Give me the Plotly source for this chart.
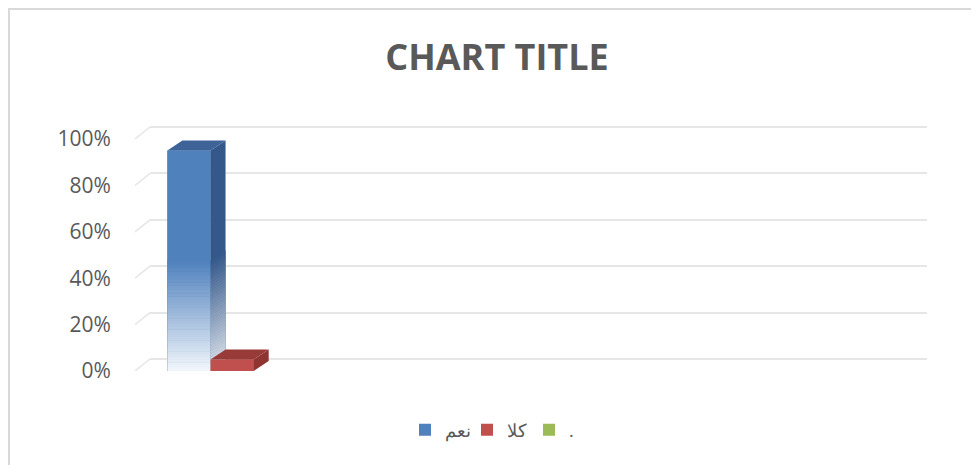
import plotly.graph_objects as go

categories = ["1", "2", "3", "4"]
series_names = ["نعم", "كلا", "."]
yes_values = [0.95, None, None, None]
no_values = [0.05, None, None, None]
dot_values = [0.0, None, None, None]
y_ticks = [0, 0.2, 0.4, 0.6, 0.8, 1.0]

FRONT = ["#4F81BD", "#C0504D", "#9BBB59"]
SIDE = ["#34588A", "#8E3532", "#71893F"]
TOP = ["#3E6398", "#983A37", "#7A9443"]
FADE_FRONT = ["#F2F6FB", None, None]
FADE_SIDE = ["#DCE2EA", None, None]
GRID = "#E6E6E6"
TEXT = "#595959"

# pixel layout of the fake 3-D plot box (window coordinates)
W, H = 979, 465
OFF = 8  # page margin around the figure
PX_L, PX_R, PX_T, PX_B = 135, 932, 122, 371
UNIT_X = 194.25   # px per category on the front plane
UNIT_Y = 232.0    # px per 100 % on the front plane
WALL_DX, WALL_DY = 15, 12
BAR_DX, BAR_DY = 15, 10
BAR_W = 2 / 9
N_STRIPS = 40

plot_w = PX_R - PX_L
plot_h = PX_B - PX_T
ddx = BAR_DX / UNIT_X
ddy = BAR_DY / UNIT_Y


def mix(c1, c2, f):
    a = [int(c1[i:i + 2], 16) for i in (1, 3, 5)]
    b = [int(c2[i:i + 2], 16) for i in (1, 3, 5)]
    return "#" + "".join(f"{round(x + (y - x) * f):02X}" for x, y in zip(a, b))


def poly(xs, ys, color):
    return go.Scatter(
        x=xs + [xs[0]], y=ys + [ys[0]], mode="lines", fill="toself",
        fillcolor=color, line=dict(width=0, color=color),
        hoverinfo="skip", showlegend=False, xaxis="x2", yaxis="y2",
    )


fig = go.Figure()

all_values = [yes_values, no_values, dot_values]
xpos = list(range(len(categories)))

# legend entries / base bars
for i, (name, vals) in enumerate(zip(series_names, all_values)):
    fig.add_trace(go.Bar(
        x=xpos, y=vals, name=name, width=BAR_W, offset=-1 / 3 + i * BAR_W,
        marker=dict(color=FRONT[i], line=dict(width=0)),
        xaxis="x2", yaxis="y2",
    ))

# wall diagonals on the left side
dx_wall = WALL_DX / UNIT_X
dy_wall = WALL_DY / UNIT_Y
diag_x, diag_y = [], []
for v in y_ticks:
    diag_x += [-0.5, -0.5 + dx_wall, None]
    diag_y += [v, v + dy_wall, None]
fig.add_trace(go.Scatter(x=diag_x, y=diag_y, mode="lines",
                         line=dict(color=GRID, width=1.5), hoverinfo="skip",
                         showlegend=False, xaxis="x2", yaxis="y2"))

# 3-D faces drawn over the bars
for i, vals in enumerate(all_values):
    for c, v in zip(xpos, vals):
        if not v:
            continue
        x0 = c - 1 / 3 + i * BAR_W
        x1 = x0 + BAR_W
        fig.add_trace(poly([x0, x1, x1, x0], [0, 0, v, v], FRONT[i]))
        fig.add_trace(poly([x1, x1 + ddx, x1 + ddx, x1], [0, ddy, v + ddy, v], SIDE[i]))
        if FADE_FRONT[i]:
            half = v / 2
            for k in range(N_STRIPS):
                y0 = half * k / N_STRIPS
                y1 = half * (k + 1) / N_STRIPS + 0.002
                f = (k + 0.5) / N_STRIPS
                fig.add_trace(poly([x0, x1, x1, x0], [y0, y0, y1, y1],
                                   mix(FADE_FRONT[i], FRONT[i], f)))
                fig.add_trace(poly([x1, x1 + ddx, x1 + ddx, x1],
                                   [y0, y0 + ddy, y1 + ddy, y1],
                                   mix(FADE_SIDE[i], SIDE[i], f)))
        fig.add_trace(poly([x0, x1, x1 + ddx, x0 + ddx], [v, v, v + ddy, v + ddy], TOP[i]))

# back wall axes (gridlines only)
pad = 0.02
back_bottom = PX_B - WALL_DY + pad * UNIT_Y
back_top = PX_B - WALL_DY - (1 + pad) * UNIT_Y
fig.update_layout(
    xaxis=dict(domain=[WALL_DX / plot_w, (WALL_DX + 4 * UNIT_X) / plot_w],
               range=[-0.5, 3.5], visible=False, anchor="y"),
    yaxis=dict(domain=[(PX_B - back_bottom) / plot_h, (PX_B - back_top) / plot_h],
               range=[-pad, 1 + pad], tickvals=y_ticks, showgrid=True,
               gridcolor=GRID, gridwidth=1.5, showticklabels=False,
               zeroline=False, ticks="", anchor="x"),
    xaxis2=dict(domain=[0, 1], range=[-0.5, -0.5 + plot_w / UNIT_X],
                visible=False, anchor="y2"),
    yaxis2=dict(domain=[0, 1], range=[0, plot_h / UNIT_Y], tickvals=y_ticks,
                tickformat=".0%", showgrid=False, zeroline=False,
                ticks="outside", ticklen=19, tickcolor="rgba(0,0,0,0)",
                tickfont=dict(family="Open Sans", size=21, color=TEXT),
                anchor="x2"),
)
fig.add_trace(go.Scatter(x=[None], y=[None], showlegend=False, hoverinfo="skip"))

# outer chart border (as close to the page corner as the figure allows)
bx, by = OFF + 1, OFF + 1
fig.add_shape(type="rect", xref="paper", yref="paper",
              x0=(bx - PX_L) / plot_w, x1=(W + 20 - PX_L) / plot_w,
              y0=(PX_B - by) / plot_h, y1=(PX_B - H - 20) / plot_h,
              line=dict(color="#D9D9D9", width=2))

fig.update_layout(
    width=W - OFF, height=H - OFF,
    margin=dict(l=PX_L - OFF, r=W - PX_R, t=PX_T - OFF, b=H - PX_B),
    paper_bgcolor="white", plot_bgcolor="rgba(0,0,0,0)",
    barmode="overlay",
    title=dict(text="<b>CHART TITLE</b>", x=(497 - PX_L) / plot_w, xref="paper",
               xanchor="center", y=1 - (57 - OFF) / (H - OFF), yref="container",
               yanchor="middle",
               font=dict(family="Open Sans", size=36, color=TEXT)),
    legend=dict(orientation="h", x=(498 - PX_L) / plot_w, y=(PX_B - 430) / plot_h,
                xanchor="center", yanchor="middle", entrywidth=17,
                entrywidthmode="pixels",
                font=dict(family="Open Sans", size=18, color=TEXT)),
    showlegend=True,
)

fig.write_html("out.html")
